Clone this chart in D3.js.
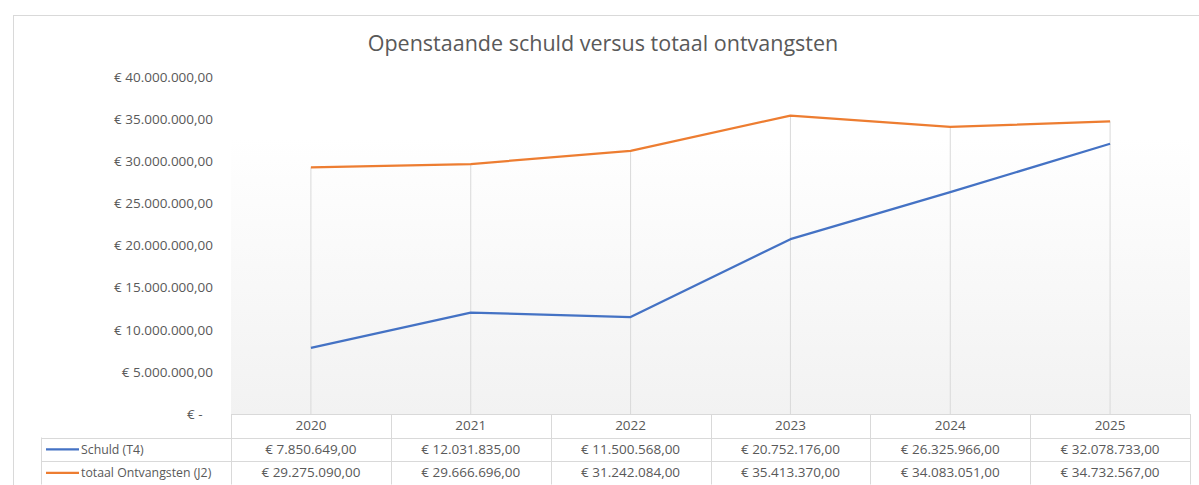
<!DOCTYPE html>
<html>
<head>
<meta charset="utf-8">
<script src="https://cdn.jsdelivr.net/npm/d3@7"></script>
<style>
  body { margin: 0; background: #fff; }
  svg { display: block; font-family: "Open Sans", "Noto Sans", sans-serif; }
</style>
</head>
<body>
<div id="chart"></div>
<script>
let width = 1199;
let height = 485;

let years = ["2020", "2021", "2022", "2023", "2024", "2025"];
let schuld = [7850649, 12031835, 11500568, 20752176, 26325966, 32078733];
let ontvangsten = [29275090, 29666696, 31242084, 35413370, 34083051, 34732567];
let seriesNames = ["Schuld (T4)", "totaal Ontvangsten (J2)"];
let seriesColors = ["#4472C4", "#ED7D31"];
let yTicks = [0, 5000000, 10000000, 15000000, 20000000, 25000000, 30000000, 35000000, 40000000];

let plot = { left: 231, right: 1190, top: 77, bottom: 414 };
let rowH = 23.5;

var euro = d3.formatLocale({
	decimal: ",",
	thousands: ".",
	grouping: [3],
	currency: ["€ ", ""],
});
var fmt = euro.format("$,.2f");

var svg = d3
	.select("#chart")
	.append("svg")
	.attr("width", width)
	.attr("height", height);

// chart border
svg.append("rect")
	.attr("x", 13.5)
	.attr("y", 15.5)
	.attr("width", width + 10)
	.attr("height", height + 10)
	.attr("fill", "#fff")
	.attr("stroke", "#d9d9d9");

var x = d3.scaleBand().domain(years).range([plot.left, plot.right]);
var y = d3.scaleLinear().domain([0, 40000000]).range([plot.bottom, plot.top]);

// plot area background, white fading to light grey
var grad = svg.append("defs").append("linearGradient")
	.attr("id", "bg")
	.attr("x1", 0).attr("y1", 0).attr("x2", 0).attr("y2", 1);
grad.append("stop").attr("offset", "0%").attr("stop-color", "#ffffff");
grad.append("stop").attr("offset", "18%").attr("stop-color", "#ffffff");
grad.append("stop").attr("offset", "100%").attr("stop-color", "#f2f2f2");

svg.append("rect")
	.attr("x", plot.left)
	.attr("y", plot.top)
	.attr("width", plot.right - plot.left)
	.attr("height", plot.bottom - plot.top)
	.attr("fill", "url(#bg)");

// title
svg.append("text")
	.attr("x", 603)
	.attr("y", 51)
	.attr("text-anchor", "middle")
	.attr("fill", "#595959")
	.style("font-size", "21.5px")
	.text("Openstaande schuld versus totaal ontvangsten");

// y axis labels
var yAxis = d3.axisLeft(y)
	.tickValues(yTicks)
	.tickSize(0)
	.tickPadding(0)
	.tickFormat(function (d) {
		return d === 0 ? "€ -   " : fmt(d);
	});

var ya = svg.append("g")
	.attr("transform", "translate(213,0)")
	.call(yAxis);
ya.select(".domain").remove();
ya.selectAll("text")
	.attr("fill", "#595959")
	.style("font-size", "13.5px")
	.style("font-family", "\"Open Sans\", sans-serif")
	.style("white-space", "pre");

// drop lines
svg.selectAll(".drop")
	.data(years)
	.enter()
	.append("line")
	.attr("class", "drop")
	.attr("x1", function (d) { return x(d) + x.bandwidth() / 2; })
	.attr("x2", function (d) { return x(d) + x.bandwidth() / 2; })
	.attr("y1", function (d, i) { return y(Math.max(schuld[i], ontvangsten[i])); })
	.attr("y2", plot.bottom)
	.attr("stroke", "#d9d9d9")
	.attr("stroke-width", 1);

// lines
var line = d3.line()
	.x(function (d, i) { return x(years[i]) + x.bandwidth() / 2; })
	.y(function (d) { return y(d); });

[schuld, ontvangsten].forEach(function (s, k) {
	svg.append("path")
		.datum(s)
		.attr("d", line)
		.attr("fill", "none")
		.attr("stroke", seriesColors[k])
		.attr("stroke-width", 2.25)
		.attr("stroke-linejoin", "round");
});

// data table
var table = svg.append("g");
var gridColor = "#d9d9d9";
var tLeft = 41;
var rows = [schuld, ontvangsten];

// horizontal lines
table.append("line")
	.attr("x1", plot.left).attr("x2", plot.right)
	.attr("y1", plot.bottom + 0.5).attr("y2", plot.bottom + 0.5)
	.attr("stroke", gridColor);
for (var r = 1; r <= 3; r++) {
	table.append("line")
		.attr("x1", tLeft).attr("x2", plot.right)
		.attr("y1", Math.round(plot.bottom + r * rowH) + 0.5)
		.attr("y2", Math.round(plot.bottom + r * rowH) + 0.5)
		.attr("stroke", gridColor);
}

// vertical lines
table.append("line")
	.attr("x1", tLeft + 0.5).attr("x2", tLeft + 0.5)
	.attr("y1", plot.bottom + rowH).attr("y2", plot.bottom + 3 * rowH)
	.attr("stroke", gridColor);
years.concat(["end"]).forEach(function (d, i) {
	var xx = i < years.length ? x(d) : plot.right;
	table.append("line")
		.attr("x1", Math.round(xx) + 0.5).attr("x2", Math.round(xx) + 0.5)
		.attr("y1", plot.bottom).attr("y2", plot.bottom + 3 * rowH)
		.attr("stroke", gridColor);
});

// header
table.selectAll(".yr")
	.data(years)
	.enter()
	.append("text")
	.attr("x", function (d) { return x(d) + x.bandwidth() / 2; })
	.attr("y", plot.bottom + rowH / 2)
	.attr("dy", "0.35em")
	.attr("text-anchor", "middle")
	.attr("fill", "#595959")
	.style("font-size", "13.5px")
	.text(function (d) { return d; });

rows.forEach(function (s, k) {
	var cy = plot.bottom + (k + 1) * rowH + rowH / 2;
	table.append("line")
		.attr("x1", 46).attr("x2", 79)
		.attr("y1", cy).attr("y2", cy)
		.attr("stroke", seriesColors[k])
		.attr("stroke-width", 2.25);
	table.append("text")
		.attr("x", 81)
		.attr("y", cy)
		.attr("dy", "0.35em")
		.attr("fill", "#595959")
		.style("font-size", "12.3px")
		.text(seriesNames[k]);
	table.selectAll(".v" + k)
		.data(s)
		.enter()
		.append("text")
		.attr("x", function (d, i) { return x(years[i]) + x.bandwidth() / 2; })
		.attr("y", cy)
		.attr("dy", "0.35em")
		.attr("text-anchor", "middle")
		.attr("fill", "#595959")
		.style("font-size", "13.5px")
		.text(function (d) { return fmt(d); });
});
</script>
</body>
</html>
